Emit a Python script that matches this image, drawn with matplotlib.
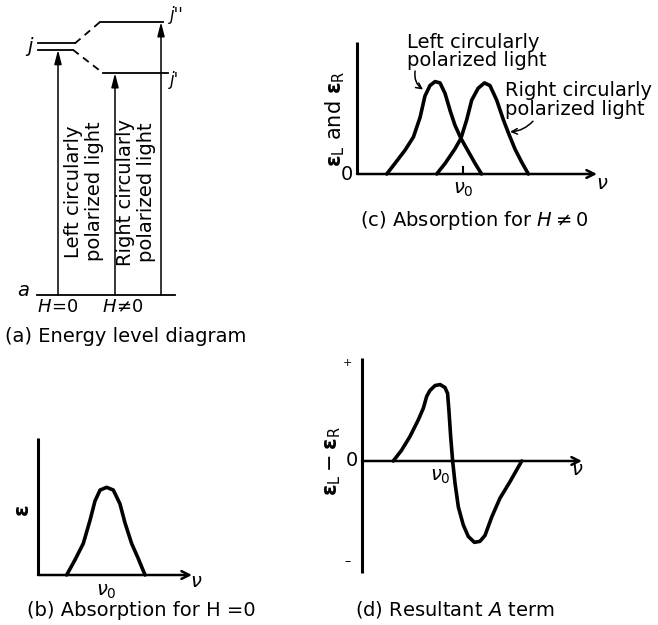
import matplotlib
matplotlib.use("Agg")
import matplotlib.pyplot as plt

plt.rcParams['font.family'] = ['DejaVu Sans']
plt.rcParams['mathtext.fontset'] = 'dejavusans'

# ---------------- data ----------------
# (a) energy levels (arbitrary energy units)
E_a = 0.0
E_j = 0.91
E_j1 = 0.813     # j'
E_j2 = 1.0       # j''
j_split = 0.012  # half spacing of degenerate double line

# (b) absorption for H = 0
nu_b = [1.86, 2.40, 2.94, 3.38, 3.70, 4.03, 4.46, 4.89, 5.32, 5.65, 6.08, 6.51, 6.95]
eps_b = [0.0, 0.11, 0.23, 0.40, 0.54, 0.62, 0.64, 0.62, 0.52, 0.38, 0.23, 0.12, 0.0]
nu0_b = 4.42

# (c) absorption for H != 0
nu_L = [1.24, 1.58, 2.00, 2.35, 2.63, 2.83, 3.04, 3.25, 3.46, 3.67, 3.88, 4.08,
        4.33, 4.64, 4.92, 5.19]
eps_L = [0.0, 0.08, 0.18, 0.28, 0.43, 0.59, 0.67, 0.70, 0.69, 0.61, 0.48, 0.37,
         0.27, 0.17, 0.08, 0.0]
nu_R = [3.32, 3.67, 4.08, 4.33, 4.57, 4.78, 5.05, 5.31, 5.54, 5.82, 6.10, 6.31,
        6.58, 6.86, 7.14]
eps_R = [0.0, 0.08, 0.19, 0.27, 0.41, 0.56, 0.65, 0.69, 0.67, 0.56, 0.41, 0.31,
         0.19, 0.09, 0.0]
nu0_c = 4.42

# (d) resultant A term
nu_d = [1.42, 1.80, 2.18, 2.56, 2.79, 2.94, 3.09, 3.32, 3.55, 3.77, 3.89, 3.95,
        4.03, 4.12, 4.23, 4.38, 4.60, 4.83, 5.11, 5.36, 5.59, 5.90, 6.27, 6.73, 7.26]
de_d = [0.0, 0.11, 0.25, 0.42, 0.54, 0.66, 0.72, 0.77, 0.78, 0.75, 0.69, 0.52,
        0.25, 0.0, -0.23, -0.47, -0.65, -0.77, -0.83, -0.82, -0.76, -0.57, -0.38,
        -0.21, 0.0]
nu0_d = 3.55

W, H = 658, 625
fig = plt.figure(figsize=(W / 100, H / 100), dpi=100)


def px_axes(box, origin, scale):
    l, t, r, b = box
    ax = fig.add_axes([l / W, 1 - b / H, (r - l) / W, (b - t) / H])
    ox, oy = origin
    sx, sy = scale
    ax.set_xlim((l - ox) / sx, (r - ox) / sx)
    ax.set_ylim((oy - b) / sy, (oy - t) / sy)
    ax.axis('off')
    return ax


def ftext(x, y, s, **kw):
    fig.text(x / W, 1 - y / H, s, **kw)


FS = 14
LW = 2.2
eps_sym = r'$\boldsymbol{\varepsilon}$'
curve_kw = dict(color='k', lw=LW + 0.4, solid_joinstyle='round', solid_capstyle='round')
axis_arrow = dict(arrowstyle='->', color='k', lw=1.8, shrinkA=0, shrinkB=0,
                  mutation_scale=14)

# ---------------- (a) energy level diagram ----------------
axa = px_axes((0, 0, 220, 325), (0, 295), (1, 273))
lwa = 1.3
axa.plot([37, 175], [E_a, E_a], color='k', lw=lwa)
axa.plot([38, 75], [E_j + j_split, E_j + j_split], color='k', lw=lwa)
axa.plot([38, 73], [E_j - j_split, E_j - j_split], color='k', lw=lwa)
axa.plot([75, 100], [E_j + j_split, E_j2], color='k', lw=lwa, ls=(0, (4, 3)))
axa.plot([73, 103], [E_j - j_split, E_j1], color='k', lw=lwa, ls=(0, (4, 3)))
axa.plot([100, 163], [E_j2, E_j2], color='k', lw=lwa)
axa.plot([103, 168], [E_j1, E_j1], color='k', lw=lwa)
arr = dict(arrowstyle='-|>,head_length=0.7,head_width=0.18', color='k', lw=1.1,
           shrinkA=0, shrinkB=0, mutation_scale=12)
for xx, top in [(58, E_j - j_split), (115, E_j1), (161, E_j2)]:
    axa.annotate('', xy=(xx, top), xytext=(xx, E_a), arrowprops=arr)
axa.text(30, E_j, 'j', style='italic', fontsize=FS, ha='center', va='center')
axa.text(177, E_j2 + 0.026, "j''", style='italic', fontsize=FS - 2, ha='center', va='center')
axa.text(174, E_j1 - 0.025, "j'", style='italic', fontsize=FS - 2, ha='center', va='center')
axa.text(23, E_a + 0.018, 'a', style='italic', fontsize=FS, ha='center', va='center')
axa.text(58, -0.044, r'$H\!=\!0$', fontsize=FS - 1, ha='center', va='center')
axa.text(123, -0.044, r'$H\!\neq\!0$', fontsize=FS - 1, ha='center', va='center')
axa.text(84, 0.38, 'Left circularly\npolarized light', rotation=90, fontsize=FS,
         ha='center', va='center', multialignment='center', linespacing=1.1)
axa.text(136, 0.377, 'Right circularly\npolarized light', rotation=90, fontsize=FS,
         ha='center', va='center', multialignment='center', linespacing=1.1)
ftext(5, 337, '(a) Energy level diagram', fontsize=FS, ha='left', va='center')

# ---------------- (b) absorption for H = 0 ----------------
axb = px_axes((0, 400, 215, 600), (38, 575), (15.4, 137))
axb.plot([0, 0], [0, 1.0], color='k', lw=LW, solid_capstyle='butt')
axb.annotate('', xy=(10.0, 0), xytext=(0, 0), arrowprops=axis_arrow)
axb.plot(nu_b, eps_b, **curve_kw)
axb.text(nu0_b, -0.12, r'$\nu_0$', fontsize=FS, ha='center', va='center')
axb.text(10.3, -0.05, r'$\nu$', fontsize=FS, ha='center', va='center')
axb.text(-0.97, 0.47, eps_sym, fontsize=FS + 1, ha='center', va='center', rotation=90)
ftext(27, 610, '(b) Absorption for H =0', fontsize=FS, ha='left', va='center')

# ---------------- (c) absorption for H != 0 ----------------
axc = px_axes((320, 20, 658, 200), (357, 174), (24, 132))
axc.plot([0, 0], [0, 1.0], color='k', lw=LW, solid_capstyle='butt')
axc.annotate('', xy=(10.0, 0), xytext=(0, 0), arrowprops=axis_arrow)
axc.plot([nu0_c, nu0_c], [0, 0.05], color='k', lw=1.5)
axc.plot(nu_L, eps_L, **curve_kw)
axc.plot(nu_R, eps_R, **curve_kw)
axc.text(-0.42, 0.0, '0', fontsize=FS, ha='center', va='center')
axc.text(nu0_c, -0.12, r'$\nu_0$', fontsize=FS, ha='center', va='center')
axc.text(10.2, -0.07, r'$\nu$', fontsize=FS, ha='center', va='center')
axc.text(-0.92, 0.42, eps_sym + r'$_{\mathrm{L}}$ and ' + eps_sym + r'$_{\mathrm{R}}$',
         fontsize=FS + 1, ha='center', va='center', rotation=90)
axc.text(2.08, 0.93, 'Left circularly\npolarized light', fontsize=FS, ha='left',
         va='center', linespacing=0.95)
axc.text(6.17, 0.56, 'Right circularly\npolarized light', fontsize=FS, ha='left',
         va='center', linespacing=0.95)
axc.annotate('', xy=(2.75, 0.64), xytext=(2.42, 0.78),
             arrowprops=dict(arrowstyle='->', color='k', lw=1.1, shrinkA=0, shrinkB=0,
                             connectionstyle='arc3,rad=0.3', mutation_scale=10))
axc.annotate('', xy=(6.38, 0.32), xytext=(7.33, 0.40),
             arrowprops=dict(arrowstyle='->', color='k', lw=1.1, shrinkA=0, shrinkB=0,
                             connectionstyle='arc3,rad=-0.2', mutation_scale=10))
ftext(360, 220, r'(c) Absorption for $H\neq 0$', fontsize=FS, ha='left', va='center')

# ---------------- (d) resultant A term ----------------
axd = px_axes((320, 340, 658, 590), (362, 461), (22, 98))
axd.plot([0, 0], [-1.14, 1.05], color='k', lw=LW, solid_capstyle='butt')
axd.annotate('', xy=(10.0, 0), xytext=(0, 0), arrowprops=axis_arrow)
axd.plot(nu_d, de_d, **curve_kw)
axd.text(-0.45, 0.0, '0', fontsize=FS, ha='center', va='center')
axd.text(nu0_d, -0.16, r'$\nu_0$', fontsize=FS, ha='center', va='center')
axd.text(9.8, -0.09, r'$\nu$', fontsize=FS, ha='center', va='center')
axd.text(-0.64, 1.0, '+', fontsize=8, ha='center', va='center')
axd.text(-0.64, -1.03, '\u2013', fontsize=9, ha='center', va='center')
axd.text(-1.32, 0.0, eps_sym + r'$_{\mathrm{L}}-$' + eps_sym + r'$_{\mathrm{R}}$',
         fontsize=FS + 1, ha='center', va='center', rotation=90)
ftext(355, 610, r'(d) Resultant $A$ term', fontsize=FS, ha='left', va='center')

fig.savefig('out.png', dpi=100, facecolor='white')
